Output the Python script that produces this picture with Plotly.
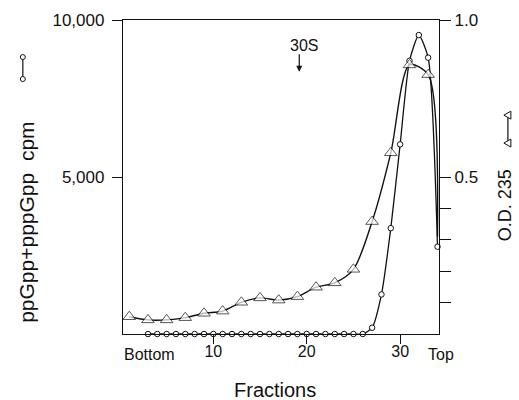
import plotly.graph_objects as go

# ---- data ----
circle_fractions = list(range(3, 35))
cpm = [0] * 24 + [200, 1260, 3370, 6040, 8700, 9520, 8800, 2780]

triangle_fractions = list(range(1, 34, 2)) + [34]
od235 = [0.055, 0.045, 0.045, 0.052, 0.066, 0.073, 0.101, 0.115, 0.108,
         0.119, 0.149, 0.163, 0.206, 0.358, 0.577, 0.857, 0.826, 0.31]

x_ticks = [10, 20, 30]
x_ticklabels = ["10", "20", "30"]
y_ticks = [5000, 10000]
y_ticklabels = ["5,000", "10,000"]
y2_ticks = [0.1, 0.2, 0.3, 0.4, 0.5, 1.0]
y2_ticklabels = ["", "", "", "", "0.5", "1.0"]

peak_label = "30S"
peak_fraction = 19.2

FONT = "Liberation Sans"
BLACK = "#111111"

fig = go.Figure()

fig.add_trace(go.Scatter(
    x=triangle_fractions, y=od235, yaxis="y2", mode="lines+markers",
    line=dict(color=BLACK, width=1.4, shape="spline", smoothing=0.8),
    marker=dict(symbol="triangle-up", size=[11] * 17 + [0], color="#ffffff",
                line=dict(color=BLACK, width=1.0)),
    showlegend=False, cliponaxis=False, hoverinfo="skip"))

fig.add_trace(go.Scatter(
    x=circle_fractions, y=cpm, mode="lines+markers",
    line=dict(color=BLACK, width=1.3, shape="spline", smoothing=0.6),
    marker=dict(symbol="circle", size=5.5, color="#ffffff",
                line=dict(color=BLACK, width=1)),
    showlegend=False, cliponaxis=False, hoverinfo="skip"))

axis_font = dict(family=FONT, size=16, color=BLACK)

fig.update_layout(
    width=519, height=400,
    margin=dict(l=123, r=80, t=20, b=66, autoexpand=False),
    paper_bgcolor="white", plot_bgcolor="white",
    font=dict(family=FONT, color=BLACK),
    xaxis=dict(range=[0.33, 34.16], tickvals=x_ticks, ticktext=x_ticklabels,
               ticks="outside", ticklen=9, tickwidth=1.2, tickcolor=BLACK,
               ticklabelstandoff=-6,
               showline=True, linecolor=BLACK, linewidth=1.3, mirror=True,
               showgrid=False, zeroline=False, tickfont=axis_font),
    yaxis=dict(range=[0, 10000], tickvals=y_ticks, ticktext=y_ticklabels,
               ticks="outside", ticklen=10, tickwidth=1.2, tickcolor=BLACK,
               ticklabelstandoff=4,
               showline=True, linecolor=BLACK, linewidth=1.3,
               showgrid=False, zeroline=False,
               tickfont=dict(family=FONT, size=17, color=BLACK)),
    yaxis2=dict(range=[0, 1], overlaying="y", side="right",
                tickvals=y2_ticks, ticktext=y2_ticklabels,
                ticks="outside", ticklen=11, tickwidth=1.2, tickcolor=BLACK,
                showline=True, linecolor=BLACK, linewidth=1.3,
                showgrid=False, zeroline=False,
                tickfont=dict(family=FONT, size=17, color=BLACK)),
)

ann = []
ann.append(dict(text="Fractions", xref="paper", yref="paper", x=0.481, y=-0.178,
                xanchor="center", yanchor="middle",
                showarrow=False, font=dict(family=FONT, size=20, color=BLACK)))
ann.append(dict(text="Bottom", xref="paper", yref="paper", x=0.085, y=-0.064,
                xanchor="center", yanchor="middle", showarrow=False, font=axis_font))
ann.append(dict(text="Top", xref="paper", yref="paper", x=1.005, y=-0.064,
                xanchor="center", yanchor="middle", showarrow=False, font=axis_font))
ann.append(dict(text="ppGpp+pppGpp\u00a0\u00a0cpm", textangle=-90, xref="paper", yref="paper",
                x=-0.304, y=0.357, xanchor="center", yanchor="middle", showarrow=False,
                font=dict(family=FONT, size=21, color=BLACK)))
ann.append(dict(text="O.D. 235", textangle=-90, xref="paper", yref="paper",
                x=1.209, y=0.41, xanchor="center", yanchor="middle", showarrow=False,
                font=dict(family=FONT, size=18, color=BLACK)))
# 30S marker: label and down arrow
ann.append(dict(text=peak_label, x=peak_fraction + 0.5, y=9200, xref="x", yref="y",
                xanchor="center", yanchor="middle", showarrow=False,
                font=dict(family=FONT, size=16, color=BLACK)))
ann.append(dict(text="", x=peak_fraction, y=8350, xref="x", yref="y",
                showarrow=True, ax=0, ay=-19, arrowhead=2, arrowsize=1,
                arrowwidth=1.2, arrowcolor=BLACK, standoff=0))
fig.update_layout(annotations=ann)

# legend glyphs next to axis titles
shapes = []
lx = -0.317
shapes.append(dict(type="line", xref="paper", yref="paper", x0=lx, x1=lx, y0=0.812, y1=0.882,
                   line=dict(color=BLACK, width=1.2)))
for yy in (0.812, 0.882):
    shapes.append(dict(type="circle", xref="paper", yref="paper", xsizemode="pixel",
                       ysizemode="pixel", xanchor=lx, yanchor=yy, x0=-2.5, x1=2.5, y0=-2.5, y1=2.5,
                       line=dict(color=BLACK, width=1), fillcolor="white"))
rx = 1.218
shapes.append(dict(type="line", xref="paper", yref="paper", x0=rx, x1=rx, y0=0.608, y1=0.697,
                   line=dict(color=BLACK, width=1.2)))
for yy in (0.608, 0.697):
    shapes.append(dict(type="path", xref="paper", yref="paper", xsizemode="pixel",
                       ysizemode="pixel", xanchor=rx, yanchor=yy,
                       path="M -4 0 L 3 4 L 3 -4 Z",
                       line=dict(color=BLACK, width=1), fillcolor="white"))
fig.update_layout(shapes=shapes)

fig.write_html("out.html", config={"displayModeBar": False},
               post_script="document.body.style.margin='0';")
